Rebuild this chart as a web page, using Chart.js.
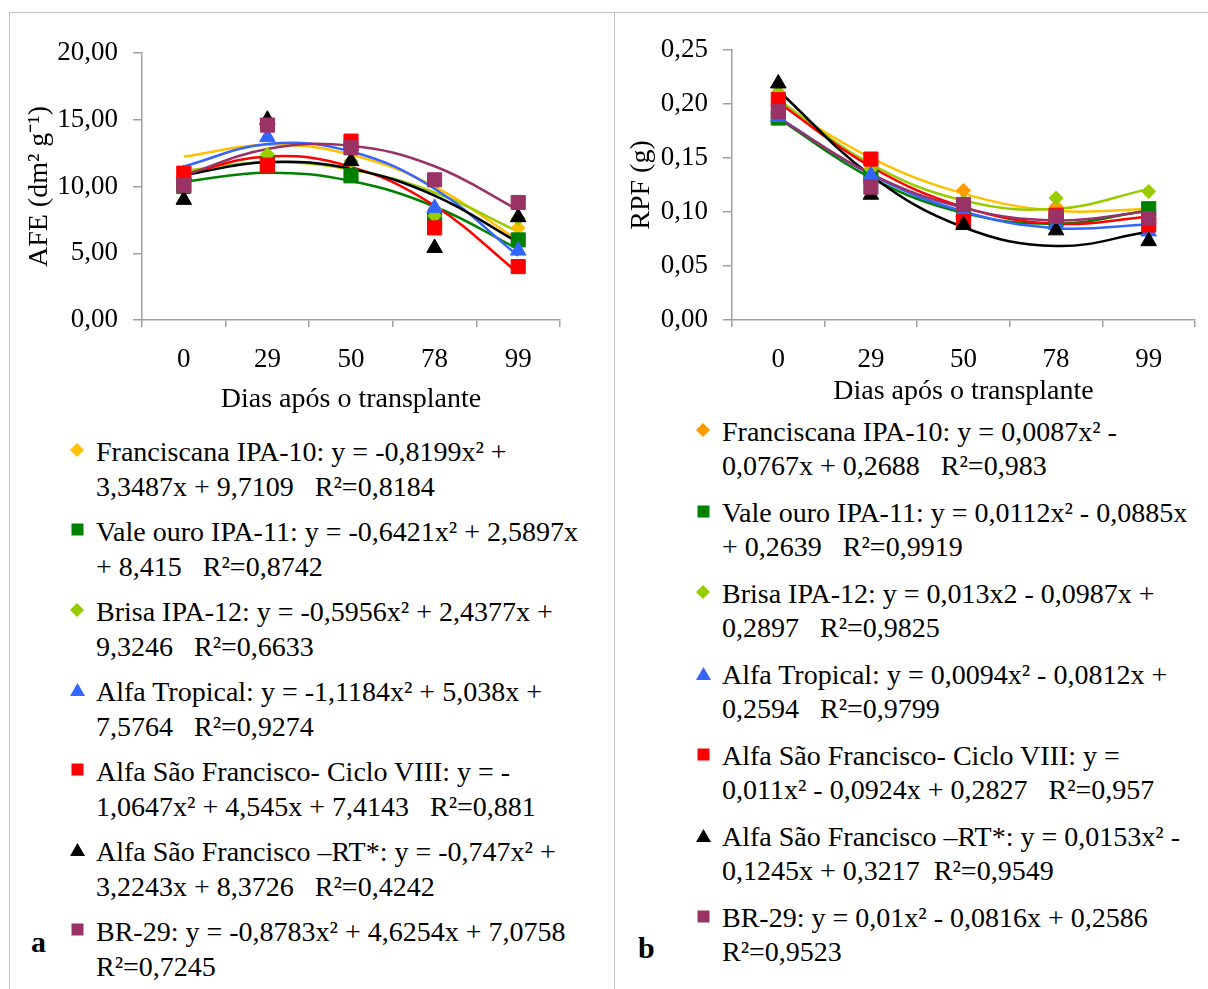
<!DOCTYPE html>
<html>
<head>
<meta charset="utf-8">
<script src="https://cdn.jsdelivr.net/npm/chart.js@4.4.1/dist/chart.umd.min.js"></script>
<style>
  html, body { margin: 0; padding: 0; background: #fff; }
  body { width: 1208px; height: 989px; position: relative; overflow: hidden; font-family: 'Liberation Serif', 'Times New Roman', serif; color: #000; }
  .rule { position: absolute; background: #c4c4c4; }
  .box { position: absolute; }
  .item { position: absolute; white-space: pre; font-size: 28px; }
  .item svg { position: absolute; }
  .tag { position: absolute; font-weight: bold; font-size: 30px; }
</style>
</head>
<body>
<div class="rule" style="left:9px;top:12px;width:1199px;height:1px"></div>
<div class="rule" style="left:9px;top:12px;width:1px;height:977px"></div>
<div class="rule" style="left:614px;top:12px;width:1px;height:977px"></div>

<div class="box" style="left:10px;top:13px"><canvas id="afe" width="600" height="403"></canvas></div>
<div class="box" style="left:616px;top:13px"><canvas id="rpf" width="590" height="395"></canvas></div>

<div id="legendA"></div>
<div id="legendB"></div>
<div class="tag" style="left:31px;top:925px">a</div>
<div class="tag" style="left:638px;top:931px">b</div>

<script>
const days = ['0', '29', '50', '78', '99']

const lineColors = ['#FFC000', '#008000', '#99CC00', '#3366FF', '#FF0000', '#000000', '#993366']
const markerColorsA = ['#FFC000', '#008000', '#99CC00', '#3366FF', '#FF0000', '#000000', '#993366']
const markerColorsB = ['#FF9900', '#008000', '#99CC00', '#3366FF', '#FF0000', '#000000', '#993366']
const markerStyles = ['rectRot', 'rect', 'rectRot', 'triangle', 'rect', 'triangle', 'rect']

// AFE (dm2 g-1), observed
const afeFranciscana = [11.1, 12.1, 12.7, 8.3, 6.9]
const afeValeOuro = [10.0, 11.7, 10.8, 7.5, 6.0]
const afeBrisa = [10.8, 12.4, 11.9, 7.8, 7.6]
const afeTropical = [10.9, 13.7, 13.1, 8.4, 5.2]
const afeCicloVIII = [11.0, 11.6, 13.4, 6.9, 4.0]
const afeRT = [9.0, 15.0, 11.9, 5.4, 7.7]
const afeBR29 = [10.1, 14.6, 12.9, 10.5, 8.8]

// AFE trend lines
const afeFitFranciscana = [12.24, 13.13, 12.38, 9.99, 5.96]
const afeFitValeOuro = [10.36, 11.03, 10.41, 8.50, 5.31]
const afeFitBrisa = [11.17, 11.82, 11.28, 9.55, 6.62]
const afeFitTropical = [11.50, 13.18, 12.62, 9.83, 4.81]
const afeFitCicloVIII = [10.89, 12.25, 11.47, 8.56, 3.52]
const afeFitRT = [10.85, 11.83, 11.32, 9.32, 5.82]
const afeFitBR29 = [10.82, 12.81, 13.05, 11.52, 8.25]

// RPF (g), observed
const rpfFranciscana = [0.200, 0.145, 0.120, 0.105, 0.100]
const rpfValeOuro = [0.187, 0.133, 0.100, 0.093, 0.103]
const rpfBrisa = [0.211, 0.140, 0.110, 0.113, 0.119]
const rpfTropical = [0.188, 0.134, 0.100, 0.088, 0.082]
const rpfCicloVIII = [0.204, 0.149, 0.091, 0.097, 0.088]
const rpfRT = [0.219, 0.116, 0.088, 0.083, 0.073]
const rpfBR29 = [0.193, 0.123, 0.107, 0.096, 0.094]

// RPF trend lines
const rpfFitFranciscana = [0.2008, 0.1502, 0.1170, 0.1012, 0.1028]
const rpfFitValeOuro = [0.1866, 0.1317, 0.0992, 0.0891, 0.1014]
const rpfFitBrisa = [0.2040, 0.1443, 0.1106, 0.1029, 0.1212]
const rpfFitTropical = [0.1876, 0.1346, 0.1004, 0.0850, 0.0884]
const rpfFitCicloVIII = [0.2013, 0.1419, 0.1045, 0.0891, 0.0957]
const rpfFitRT = [0.2125, 0.1339, 0.0859, 0.0685, 0.0817]
const rpfFitBR29 = [0.1870, 0.1354, 0.1038, 0.0922, 0.1006]

const legendA = [
  'Franciscana IPA-10: y = -0,8199x² +\n3,3487x + 9,7109   R²=0,8184',
  'Vale ouro IPA-11: y = -0,6421x² + 2,5897x\n+ 8,415   R²=0,8742',
  'Brisa IPA-12: y = -0,5956x² + 2,4377x +\n9,3246   R²=0,6633',
  'Alfa Tropical: y = -1,1184x² + 5,038x +\n7,5764   R²=0,9274',
  'Alfa São Francisco- Ciclo VIII: y = -\n1,0647x² + 4,545x + 7,4143   R²=0,881',
  'Alfa São Francisco –RT*: y = -0,747x² +\n3,2243x + 8,3726   R²=0,4242',
  'BR-29: y = -0,8783x² + 4,6254x + 7,0758\nR²=0,7245'
]
const legendB = [
  'Franciscana IPA-10: y = 0,0087x² -\n0,0767x + 0,2688   R²=0,983',
  'Vale ouro IPA-11: y = 0,0112x² - 0,0885x\n+ 0,2639   R²=0,9919',
  'Brisa IPA-12: y = 0,013x2 - 0,0987x +\n0,2897   R²=0,9825',
  'Alfa Tropical: y = 0,0094x² - 0,0812x +\n0,2594   R²=0,9799',
  'Alfa São Francisco- Ciclo VIII: y =\n0,011x² - 0,0924x + 0,2827   R²=0,957',
  'Alfa São Francisco –RT*: y = 0,0153x² -\n0,1245x + 0,3217  R²=0,9549',
  'BR-29: y = 0,01x² - 0,0816x + 0,2586\nR²=0,9523'
]

const afePoints = [afeFranciscana, afeValeOuro, afeBrisa, afeTropical, afeCicloVIII, afeRT, afeBR29]
const afeFits = [afeFitFranciscana, afeFitValeOuro, afeFitBrisa, afeFitTropical, afeFitCicloVIII, afeFitRT, afeFitBR29]
const rpfPoints = [rpfFranciscana, rpfValeOuro, rpfBrisa, rpfTropical, rpfCicloVIII, rpfRT, rpfBR29]
const rpfFits = [rpfFitFranciscana, rpfFitValeOuro, rpfFitBrisa, rpfFitTropical, rpfFitCicloVIII, rpfFitRT, rpfFitBR29]

Chart.defaults.font.family = "'Liberation Serif', 'Times New Roman', serif"
Chart.defaults.color = '#000'

const markerRadius = { rect: 10, rectRot: 7, triangle: 9 }
const axisGray = '#a0a0a0'

function buildDatasets (points, fits, markerColors) {
  const sets = []
  fits.forEach((fit, i) => {
    sets.push({
      data: fit,
      borderColor: lineColors[i],
      borderWidth: 2.5,
      pointRadius: 0,
      tension: 0.4,
      fill: false,
      order: 30 - i
    })
  })
  points.forEach((pts, i) => {
    sets.push({
      data: pts,
      showLine: false,
      pointStyle: markerStyles[i],
      pointRadius: markerRadius[markerStyles[i]],
      pointBackgroundColor: markerColors[i],
      pointBorderColor: markerColors[i],
      pointBorderWidth: 1,
      order: 10 - i
    })
  })
  return sets
}

function makeChart (id, points, fits, markerColors, cfg) {
  // eslint-disable-next-line no-new
  new Chart(document.getElementById(id), {
    type: 'line',
    data: { labels: days, datasets: buildDatasets(points, fits, markerColors) },
    options: {
      responsive: false,
      animation: false,
      layout: { padding: cfg.padding },
      plugins: { legend: { display: false }, tooltip: { enabled: false } },
      scales: {
        x: {
          offset: true,
          afterFit: (scale) => { scale.height = cfg.xHeight },
          grid: { offset: true, drawOnChartArea: false, tickLength: 7, color: axisGray, lineWidth: 1.5 },
          border: { color: axisGray, width: 1.5 },
          ticks: { padding: 17, font: { size: 27 }, maxRotation: 0 },
          title: { display: true, text: 'Dias após o transplante', font: { size: 28 }, padding: { top: 0, bottom: 0 } }
        },
        y: {
          min: 0,
          max: cfg.max,
          afterFit: (scale) => { scale.width = cfg.yWidth },
          grid: { drawOnChartArea: false, tickLength: 9, color: axisGray, lineWidth: 1.5 },
          border: { color: axisGray, width: 1.5 },
          ticks: {
            stepSize: cfg.step,
            padding: 15,
            font: { size: 27 },
            callback: (v) => v.toFixed(2).replace('.', ',')
          },
          title: { display: true, text: cfg.title, font: { size: 28 }, padding: { top: cfg.titlePad, bottom: 0 } }
        }
      }
    }
  })
}

makeChart('afe', afePoints, afeFits, markerColorsA, {
  padding: { left: 0, top: 40, right: 50, bottom: 0 },
  xHeight: 96,
  yWidth: 132,
  max: 20,
  step: 5,
  title: 'AFE (dm² g⁻¹)',
  titlePad: 13
})

makeChart('rpf', rpfPoints, rpfFits, markerColorsB, {
  padding: { left: 0, top: 37, right: 6, bottom: 0 },
  xHeight: 88,
  yWidth: 116,
  max: 0.25,
  step: 0.05,
  title: 'RPF (g)',
  titlePad: 9
})

function markerSvg (style, color) {
  if (style === 'rect') {
    return `<svg width="13" height="13" viewBox="0 0 13 13"><rect x="0.5" y="0.5" width="12" height="12" fill="${color}"/></svg>`
  }
  if (style === 'triangle') {
    return `<svg width="15" height="13" viewBox="0 0 15 13"><polygon points="7.5,0 15,13 0,13" fill="${color}"/></svg>`
  }
  return `<svg width="14" height="14" viewBox="0 0 14 14"><polygon points="7,0 14,7 7,14 0,7" fill="${color}"/></svg>`
}

function buildLegend (el, texts, colors, left, top, step, lineHeight) {
  texts.forEach((txt, i) => {
    const item = document.createElement('div')
    item.className = 'item'
    item.style.left = left + 'px'
    item.style.top = (top + i * step) + 'px'
    item.style.lineHeight = lineHeight + 'px'
    item.textContent = txt
    const holder = document.createElement('span')
    holder.innerHTML = markerSvg(markerStyles[i], colors[i])
    const svg = holder.firstChild
    const w = Number(svg.getAttribute('width'))
    const h = Number(svg.getAttribute('height'))
    svg.style.left = (-19 - w / 2) + 'px'
    svg.style.top = (lineHeight / 2 - h / 2 - 2) + 'px'
    item.appendChild(svg)
    el.appendChild(item)
  })
}

buildLegend(document.getElementById('legendA'), legendA, markerColorsA, 96, 434, 80, 35)
buildLegend(document.getElementById('legendB'), legendB, markerColorsB, 722, 415, 81, 34)
</script>
</body>
</html>
